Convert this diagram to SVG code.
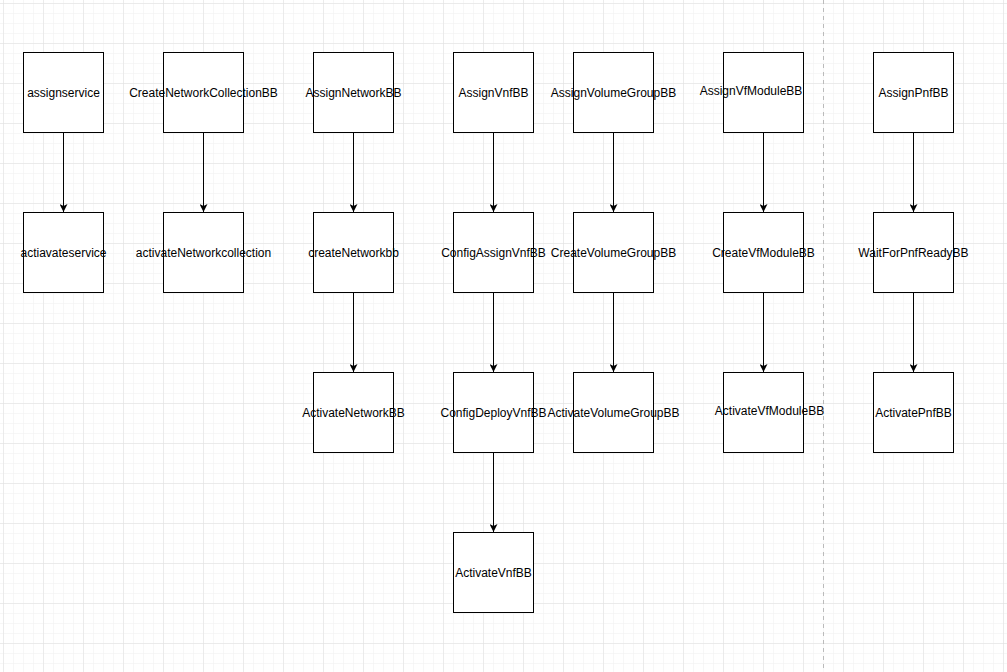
<svg xmlns="http://www.w3.org/2000/svg" width="1007" height="672" viewBox="0 0 1007 672">
<defs>
<pattern id="minor" x="3" y="3" width="10" height="10" patternUnits="userSpaceOnUse"><path d="M0 0H10M0 0V10" stroke="#f0f0f0" stroke-width="1" fill="none"/></pattern>
<pattern id="major" x="3" y="3" width="40" height="40" patternUnits="userSpaceOnUse"><path d="M0 0H40M0 0V40" stroke="#e0e0e0" stroke-width="1" fill="none"/></pattern>
<marker id="arr" viewBox="0 0 10 10" refX="10" refY="5" markerWidth="8" markerHeight="8" markerUnits="userSpaceOnUse" orient="auto"><path d="M0 0L10 5L0 10L2.5 5Z" fill="#000"/></marker>
</defs>
<style>
rect.n{fill:#fff;stroke:#000;stroke-width:1}
text{font-family:"Liberation Sans",Arial,sans-serif;font-size:12px;text-anchor:middle;fill:#000}
.c line{stroke:#000;stroke-width:1;marker-end:url(#arr)}
</style>
<rect width="1007" height="672" fill="#fff"/>
<rect width="1007" height="672" fill="url(#minor)"/>
<rect width="1007" height="672" fill="url(#major)"/>
<line x1="823.5" y1="0" x2="823.5" y2="672" stroke="#bbb" stroke-dasharray="4 4"/>
<g class="c">
<line x1="63.5" y1="132" x2="63.5" y2="212"/>
<line x1="203.5" y1="132" x2="203.5" y2="212"/>
<line x1="353.5" y1="132" x2="353.5" y2="212"/>
<line x1="353.5" y1="292" x2="353.5" y2="372"/>
<line x1="493.5" y1="132" x2="493.5" y2="212"/>
<line x1="493.5" y1="292" x2="493.5" y2="372"/>
<line x1="493.5" y1="452" x2="493.5" y2="532"/>
<line x1="613.5" y1="132" x2="613.5" y2="212"/>
<line x1="613.5" y1="292" x2="613.5" y2="372"/>
<line x1="763.5" y1="132" x2="763.5" y2="212"/>
<line x1="763.5" y1="292" x2="763.5" y2="372"/>
<line x1="913.5" y1="132" x2="913.5" y2="212"/>
<line x1="913.5" y1="292" x2="913.5" y2="372"/>
</g>
<g id="n1"><rect class="n" x="23.5" y="52.5" width="80" height="80"/><text x="63.5" y="97">assignservice</text></g>
<g id="n2"><rect class="n" x="23.5" y="212.5" width="80" height="80"/><text x="63.5" y="257">actiavateservice</text></g>
<g id="n3"><rect class="n" x="163.5" y="52.5" width="80" height="80"/><text x="203.5" y="97">CreateNetworkCollectionBB</text></g>
<g id="n4"><rect class="n" x="163.5" y="212.5" width="80" height="80"/><text x="203.5" y="257">activateNetworkcollection</text></g>
<g id="n5"><rect class="n" x="313.5" y="52.5" width="80" height="80"/><text x="353.5" y="97">AssignNetworkBB</text></g>
<g id="n6"><rect class="n" x="313.5" y="212.5" width="80" height="80"/><text x="353.5" y="257">createNetworkbb</text></g>
<g id="n7"><rect class="n" x="313.5" y="372.5" width="80" height="80"/><text x="353.5" y="417">ActivateNetworkBB</text></g>
<g id="n8"><rect class="n" x="453.5" y="52.5" width="80" height="80"/><text x="493.5" y="97">AssignVnfBB</text></g>
<g id="n9"><rect class="n" x="453.5" y="212.5" width="80" height="80"/><text x="493.5" y="257">ConfigAssignVnfBB</text></g>
<g id="n10"><rect class="n" x="453.5" y="372.5" width="80" height="80"/><text x="493.5" y="417">ConfigDeployVnfBB</text></g>
<g id="n11"><rect class="n" x="453.5" y="532.5" width="80" height="80"/><text x="493.5" y="577">ActivateVnfBB</text></g>
<g id="n12"><rect class="n" x="573.5" y="52.5" width="80" height="80"/><text x="613.5" y="97">AssignVolumeGroupBB</text></g>
<g id="n13"><rect class="n" x="573.5" y="212.5" width="80" height="80"/><text x="613.5" y="257">CreateVolumeGroupBB</text></g>
<g id="n14"><rect class="n" x="573.5" y="372.5" width="80" height="80"/><text x="613.5" y="417">ActivateVolumeGroupBB</text></g>
<g id="n15"><rect class="n" x="723.5" y="52.5" width="80" height="80"/><text x="751" y="95">AssignVfModuleBB</text></g>
<g id="n16"><rect class="n" x="723.5" y="212.5" width="80" height="80"/><text x="763.5" y="257">CreateVfModuleBB</text></g>
<g id="n17"><rect class="n" x="723.5" y="372.5" width="80" height="80"/><text x="769.5" y="415">ActivateVfModuleBB</text></g>
<g id="n18"><rect class="n" x="873.5" y="52.5" width="80" height="80"/><text x="913.5" y="97">AssignPnfBB</text></g>
<g id="n19"><rect class="n" x="873.5" y="212.5" width="80" height="80"/><text x="913.5" y="257">WaitForPnfReadyBB</text></g>
<g id="n20"><rect class="n" x="873.5" y="372.5" width="80" height="80"/><text x="913.5" y="417">ActivatePnfBB</text></g>
</svg>
